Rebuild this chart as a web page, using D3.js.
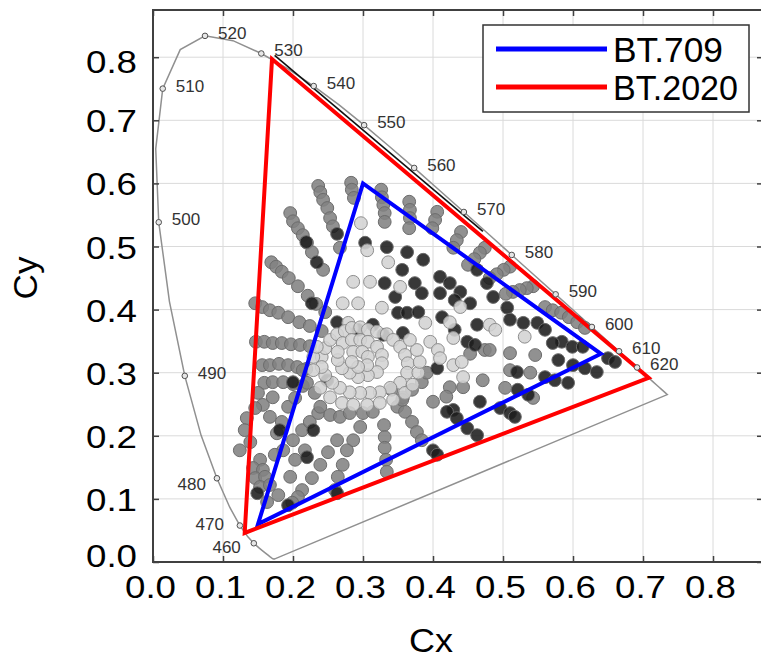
<!DOCTYPE html>
<html>
<head>
<meta charset="utf-8">
<script src="https://cdn.jsdelivr.net/npm/d3@7"></script>
<style>
  html, body { margin: 0; padding: 0; background: #fff; }
  svg { display: block; font-family: Arial, "Liberation Sans", Helvetica, sans-serif; }
</style>
</head>
<body>
<svg id="chart" width="761" height="660"></svg>
<script>
// ---------------- data ----------------
// CIE 1931 spectral locus: [wavelength nm, x, y]
const locus = [
  [380,0.1741,0.0050],[385,0.1740,0.0050],[390,0.1738,0.0049],[395,0.1736,0.0049],
  [400,0.1733,0.0048],[405,0.1730,0.0048],[410,0.1726,0.0048],[415,0.1721,0.0048],
  [420,0.1714,0.0051],[425,0.1703,0.0058],[430,0.1689,0.0069],[435,0.1669,0.0086],
  [440,0.1644,0.0109],[445,0.1611,0.0138],[450,0.1566,0.0177],[455,0.1510,0.0227],
  [460,0.1440,0.0297],[465,0.1355,0.0399],[470,0.1241,0.0578],[475,0.1096,0.0868],
  [480,0.0913,0.1327],[485,0.0687,0.2007],[490,0.0454,0.2950],[495,0.0235,0.4127],
  [500,0.0082,0.5384],[505,0.0039,0.6548],[510,0.0139,0.7502],[515,0.0389,0.8120],
  [520,0.0743,0.8338],[525,0.1142,0.8262],[530,0.1547,0.8059],[535,0.1929,0.7816],
  [540,0.2296,0.7543],[545,0.2658,0.7243],[550,0.3016,0.6923],[555,0.3373,0.6589],
  [560,0.3731,0.6245],[565,0.4087,0.5896],[570,0.4441,0.5547],[575,0.4788,0.5202],
  [580,0.5125,0.4866],[585,0.5448,0.4544],[590,0.5752,0.4242],[595,0.6029,0.3965],
  [600,0.6270,0.3725],[605,0.6482,0.3514],[610,0.6658,0.3340],[615,0.6801,0.3197],
  [620,0.6915,0.3083],[625,0.7006,0.2993],[630,0.7079,0.2920],[635,0.7140,0.2859],
  [640,0.7190,0.2809],[645,0.7230,0.2770],[650,0.7260,0.2740],[660,0.7300,0.2700],
  [670,0.7320,0.2680],[680,0.7334,0.2666],[700,0.7347,0.2653]
];
const markedNm = [460,470,480,490,500,510,520,530,540,550,560,570,580,590,600,610,620];

// Gamut primaries (R, G, B)
const bt709  = [[0.640,0.330],[0.300,0.600],[0.150,0.060]];
const bt2020 = [[0.708,0.292],[0.170,0.797],[0.131,0.046]];
// Edge segment drawn in black along the BT.2020 green-red side
const blackEdge = [[0.1715,0.800],[0.469,0.521]];

const xTicks = [0,0.1,0.2,0.3,0.4,0.5,0.6,0.7,0.8];
const yTicks = [0,0.1,0.2,0.3,0.4,0.5,0.6,0.7,0.8];
const legendNames = ["BT.709","BT.2020"];
const xTitle = "Cx", yTitle = "Cy";

// Measured sample chromaticities, grouped by tone
const midDots = [
  [0.236,0.596],[0.239,0.586],[0.243,0.574],[0.249,0.561],[0.253,0.545],[0.257,0.532],[0.267,0.498],
  [0.283,0.601],[0.284,0.590],[0.287,0.577],
  [0.326,0.590],[0.327,0.578],[0.329,0.566],[0.331,0.553],[0.331,0.539],
  [0.366,0.571],[0.367,0.558],[0.367,0.545],[0.366,0.529],
  [0.406,0.555],[0.403,0.542],[0.399,0.529],
  [0.440,0.523],[0.434,0.510],[0.429,0.498],
  [0.474,0.498],[0.467,0.490],[0.459,0.480],[0.450,0.471],
  [0.510,0.468],[0.501,0.463],[0.491,0.456],[0.481,0.450],
  [0.543,0.437],[0.534,0.434],[0.524,0.431],[0.514,0.428],[0.504,0.425],
  [0.560,0.404],[0.571,0.399],[0.583,0.395],[0.594,0.388],[0.606,0.380],[0.617,0.371],
  [0.196,0.553],[0.200,0.540],[0.207,0.529],[0.214,0.518],[0.220,0.506],[0.227,0.491],[0.243,0.463],
  [0.169,0.475],[0.176,0.468],[0.184,0.460],[0.194,0.450],[0.207,0.437],[0.221,0.422],[0.233,0.409],[0.246,0.396],
  [0.146,0.410],[0.156,0.404],[0.167,0.399],[0.179,0.395],[0.193,0.388],[0.209,0.380],[0.224,0.374],[0.241,0.366],
  [0.147,0.349],[0.159,0.349],[0.171,0.347],[0.184,0.347],[0.197,0.345],[0.210,0.344],[0.224,0.342],
  [0.156,0.312],[0.167,0.312],[0.180,0.314],[0.193,0.312],[0.206,0.309],[0.219,0.306],
  [0.159,0.284],[0.171,0.285],[0.186,0.285],[0.200,0.282],[0.214,0.279],
  [0.134,0.228],[0.131,0.209],[0.124,0.177],[0.139,0.190],[0.153,0.162],[0.143,0.149],[0.157,0.146],
  [0.146,0.133],[0.160,0.135],[0.153,0.119],[0.163,0.095],[0.196,0.135],[0.213,0.114],[0.227,0.133],
  [0.239,0.154],[0.250,0.174],[0.263,0.193],[0.186,0.177],[0.200,0.193],[0.213,0.209],[0.224,0.222],
  [0.236,0.236],[0.177,0.204],[0.167,0.230],[0.157,0.249],[0.184,0.222],[0.193,0.246],[0.203,0.260],
  [0.171,0.261],[0.150,0.268],[0.146,0.244],[0.174,0.170],[0.167,0.122],[0.179,0.106],[0.203,0.162],[0.217,0.177],
  [0.214,0.304],[0.220,0.284],[0.231,0.268],[0.239,0.246],[0.253,0.233],[0.267,0.230],[0.281,0.236],
  [0.300,0.236],[0.314,0.238],[0.349,0.246],[0.357,0.261],[0.370,0.273],[0.384,0.285],[0.391,0.300],
  [0.330,0.217],[0.331,0.198],[0.331,0.181],[0.333,0.162],[0.334,0.143],
  [0.360,0.238],[0.370,0.222],[0.377,0.206],[0.384,0.193],[0.341,0.273],[0.356,0.257],
  [0.296,0.214],[0.286,0.193],[0.277,0.177],[0.271,0.154],[0.264,0.135],[0.260,0.114],[0.207,0.103],[0.199,0.094],
  [0.400,0.254],[0.443,0.277],[0.424,0.277],[0.471,0.288],[0.474,0.336],[0.510,0.331],[0.510,0.304],
  [0.539,0.300],[0.546,0.328],[0.503,0.276],[0.543,0.260],
  [0.481,0.336],[0.453,0.330],[0.419,0.262]
];
const darkDots = [
  [0.303,0.506],[0.334,0.499],[0.363,0.491],[0.386,0.479],[0.356,0.463],[0.374,0.442],[0.331,0.442],
  [0.346,0.420],[0.350,0.395],[0.363,0.395],[0.379,0.396],[0.384,0.426],[0.263,0.380],[0.293,0.368],
  [0.314,0.376],[0.329,0.360],[0.357,0.363],[0.406,0.307],[0.429,0.241],[0.410,0.452],[0.410,0.426],
  [0.439,0.428],[0.413,0.388],[0.424,0.442],[0.463,0.463],[0.453,0.410],[0.486,0.420],[0.463,0.376],
  [0.506,0.403],[0.529,0.379],[0.549,0.379],[0.584,0.349],[0.449,0.349],[0.520,0.301],[0.571,0.347],
  [0.579,0.320],[0.560,0.293],[0.574,0.288],[0.593,0.284],[0.599,0.341],[0.600,0.312],[0.617,0.307],
  [0.634,0.301],[0.614,0.341],[0.650,0.323],[0.660,0.317],[0.420,0.238],[0.434,0.228],[0.449,0.212],
  [0.463,0.201],[0.467,0.254],[0.496,0.244],[0.510,0.236],[0.517,0.230],[0.521,0.273],[0.536,0.265],
  [0.400,0.177],[0.406,0.170],[0.193,0.090],[0.149,0.109],
  [0.234,0.475],[0.219,0.507],[0.227,0.410],[0.263,0.520],[0.200,0.285],[0.249,0.288],[0.229,0.209],
  [0.220,0.166],[0.181,0.209],[0.263,0.109],
  [0.460,0.344],[0.431,0.368],[0.510,0.384],[0.560,0.368],[0.431,0.415],[0.477,0.442]
];
const lightDots = [
  [0.297,0.537],[0.306,0.494],[0.336,0.475],[0.286,0.444],[0.310,0.444],[0.353,0.436],[0.271,0.410],
  [0.293,0.410],[0.327,0.403],[0.279,0.379],[0.389,0.379],[0.396,0.349],[0.407,0.336],[0.429,0.355],
  [0.429,0.312],[0.439,0.404],[0.424,0.380],[0.481,0.376],[0.531,0.357],[0.410,0.323],[0.441,0.317],[0.443,0.293],
  [0.489,0.368],
  [0.241,0.325],[0.246,0.339],[0.253,0.352],[0.263,0.361],[0.274,0.366],[0.284,0.371],[0.296,0.372],
  [0.307,0.368],[0.320,0.365],[0.334,0.361],[0.343,0.352],[0.353,0.341],[0.360,0.328],[0.364,0.315],
  [0.363,0.300],[0.353,0.284],[0.339,0.276],[0.324,0.269],[0.310,0.268],[0.296,0.268],[0.281,0.269],
  [0.267,0.276],[0.256,0.284],[0.246,0.296],[0.241,0.309],
  [0.271,0.347],[0.284,0.352],[0.296,0.352],[0.307,0.349],[0.320,0.341],[0.327,0.328],[0.327,0.315],
  [0.320,0.301],[0.307,0.296],[0.293,0.293],[0.281,0.300],[0.270,0.307],[0.264,0.320],[0.264,0.333],
  [0.286,0.333],[0.299,0.333],[0.307,0.325],[0.306,0.312],[0.293,0.309],[0.284,0.317],
  [0.229,0.304],[0.229,0.325],[0.234,0.341],[0.239,0.276],[0.253,0.261],[0.270,0.252],[0.286,0.249],
  [0.306,0.249],[0.324,0.252],[0.343,0.257],[0.360,0.268],[0.371,0.281],[0.379,0.300],[0.381,0.317],
  [0.377,0.336],[0.367,0.352]
];

// ---------------- drawing ----------------
const svg = d3.select("#chart");
const x = d3.scaleLinear().domain([0, 0.8714]).range([153, 763]);
const y = d3.scaleLinear().domain([0, 0.8748]).range([562, 10]);
const [x0, x1] = x.range();
const [y0, y1] = y.range();

const axisColor = "#404040";

// grid
const grid = svg.append("g").attr("stroke", "#dadada").attr("stroke-width", 1);
grid.selectAll("line.gx").data(xTicks.filter(d => d > 0)).join("line")
  .attr("x1", d => x(d)).attr("x2", d => x(d)).attr("y1", y1).attr("y2", y0);
grid.selectAll("line.gy").data(yTicks.filter(d => d > 0)).join("line")
  .attr("y1", d => y(d)).attr("y2", d => y(d)).attr("x1", x0).attr("x2", x1);

// spectral locus with purple line
const line = d3.line().x(d => x(d[1])).y(d => y(d[2]));
svg.append("path").attr("d", line(locus) + "Z")
  .attr("fill", "none").attr("stroke", "#909090").attr("stroke-width", 1.5);

// sample dots
function drawDots(data, fill, stroke) {
  svg.append("g").selectAll("circle").data(data).join("circle")
    .attr("cx", d => x(d[0])).attr("cy", d => y(d[1])).attr("r", 6.4)
    .attr("fill", fill).attr("fill-opacity", 0.88)
    .attr("stroke", stroke).attr("stroke-width", 1);
}
drawDots(midDots, "#828282", "#6c6c6c");
drawDots(darkDots, "#1c1c1c", "#6a6a6a");
drawDots(lightDots, "#d3d3d3", "#8e8e8e");

// gamut triangles
const tri = d3.line().x(d => x(d[0])).y(d => y(d[1]));
svg.append("path").attr("d", tri(blackEdge))
  .attr("fill", "none").attr("stroke", "#111").attr("stroke-width", 1.6)
  .attr("transform", "translate(1.6,-1.9)");
svg.append("path").attr("d", tri(bt709) + "Z")
  .attr("fill", "none").attr("stroke", "#0000ff").attr("stroke-width", 4).attr("stroke-linejoin", "miter");
svg.append("path").attr("d", tri(bt2020) + "Z")
  .attr("fill", "none").attr("stroke", "#ff0000").attr("stroke-width", 4).attr("stroke-linejoin", "miter");

// wavelength markers and labels
const marks = locus.filter(d => markedNm.includes(d[0]));
svg.append("g").selectAll("circle").data(marks).join("circle")
  .attr("cx", d => x(d[1])).attr("cy", d => y(d[2])).attr("r", 2.8)
  .attr("fill", "#e6e6e6").attr("stroke", "#505050").attr("stroke-width", 1);
const labelPlace = { 460: [-13, 10, "end"], 470: [-16, 4, "end"], 480: [-11, 12, "end"] };
svg.append("g").selectAll("text").data(marks).join("text")
  .attr("x", d => x(d[1]) + (labelPlace[d[0]] || [13])[0])
  .attr("y", d => y(d[2]) + (labelPlace[d[0]] || [0, 3])[1])
  .attr("text-anchor", d => (labelPlace[d[0]] || [0, 0, "start"])[2])
  .attr("font-size", 17).attr("fill", "#333")
  .text(d => d[0]);

// axes
const fmt = d3.format(".1f");
const gx = svg.append("g").attr("transform", `translate(0,${y0})`)
  .call(d3.axisBottom(x).tickValues(xTicks).tickFormat(fmt).tickSizeInner(-6).tickSizeOuter(0).tickPadding(13));
const gy = svg.append("g").attr("transform", `translate(${x0},0)`)
  .call(d3.axisLeft(y).tickValues(yTicks).tickFormat(fmt).tickSizeInner(-6).tickSizeOuter(0).tickPadding(16));
const gt = svg.append("g").attr("transform", `translate(0,${y1})`)
  .call(d3.axisTop(x).tickValues(xTicks).tickFormat("").tickSizeInner(-6).tickSizeOuter(0));
const gr = svg.append("g").attr("transform", `translate(${x1},0)`)
  .call(d3.axisRight(y).tickValues(yTicks).tickFormat("").tickSizeInner(-6).tickSizeOuter(0));
[gx, gy, gt, gr].forEach(g => {
  g.select(".domain").remove();
  g.selectAll(".tick line").attr("stroke", axisColor).attr("stroke-width", 1.5);
});
gx.selectAll(".tick text")
  .attr("font-size", 32).attr("fill", "#000").attr("font-family", "Arial, 'Liberation Sans', sans-serif")
  .attr("dx", -3).attr("textLength", 51).attr("lengthAdjust", "spacingAndGlyphs");
gy.selectAll(".tick text")
  .attr("font-size", 32).attr("fill", "#000").attr("font-family", "Arial, 'Liberation Sans', sans-serif")
  .attr("dy", "0.36em").attr("textLength", 51).attr("lengthAdjust", "spacingAndGlyphs")
  .attr("transform", d => d === 0 ? "translate(0,-7)" : d === 0.8 ? "translate(0,4)" : null);

// frame
svg.append("rect").attr("x", x0).attr("y", y1).attr("width", x1 - x0).attr("height", y0 - y1)
  .attr("fill", "none").attr("stroke", axisColor).attr("stroke-width", 2);

// axis titles
svg.append("text").attr("x", (x0 + 709) / 2).attr("y", 652).attr("text-anchor", "middle")
  .attr("font-size", 33).attr("fill", "#000").attr("textLength", 44).attr("lengthAdjust", "spacingAndGlyphs")
  .text(xTitle);
svg.append("text").attr("transform", `translate(37,${(y0 + y1) / 2 - 8}) rotate(-90)`)
  .attr("text-anchor", "middle").attr("font-size", 33).attr("fill", "#000")
  .attr("textLength", 43).attr("lengthAdjust", "spacingAndGlyphs")
  .text(yTitle);

// legend
const legend = svg.append("g").attr("transform", "translate(483,25)");
legend.append("rect").attr("width", 266).attr("height", 87)
  .attr("fill", "#fff").attr("stroke", "#333").attr("stroke-width", 1.5);
const legendColors = ["#0000ff", "#ff0000"];
const legendWidths = [110, 125];
legendNames.forEach((name, i) => {
  const ly = 24 + i * 38;
  legend.append("line").attr("x1", 13).attr("x2", 124).attr("y1", ly).attr("y2", ly)
    .attr("stroke", legendColors[i]).attr("stroke-width", 5);
  legend.append("text").attr("x", 130).attr("y", ly + 13).attr("font-size", 35).attr("fill", "#000")
    .attr("textLength", legendWidths[i]).attr("lengthAdjust", "spacingAndGlyphs")
    .text(name);
});
</script>
</body>
</html>
